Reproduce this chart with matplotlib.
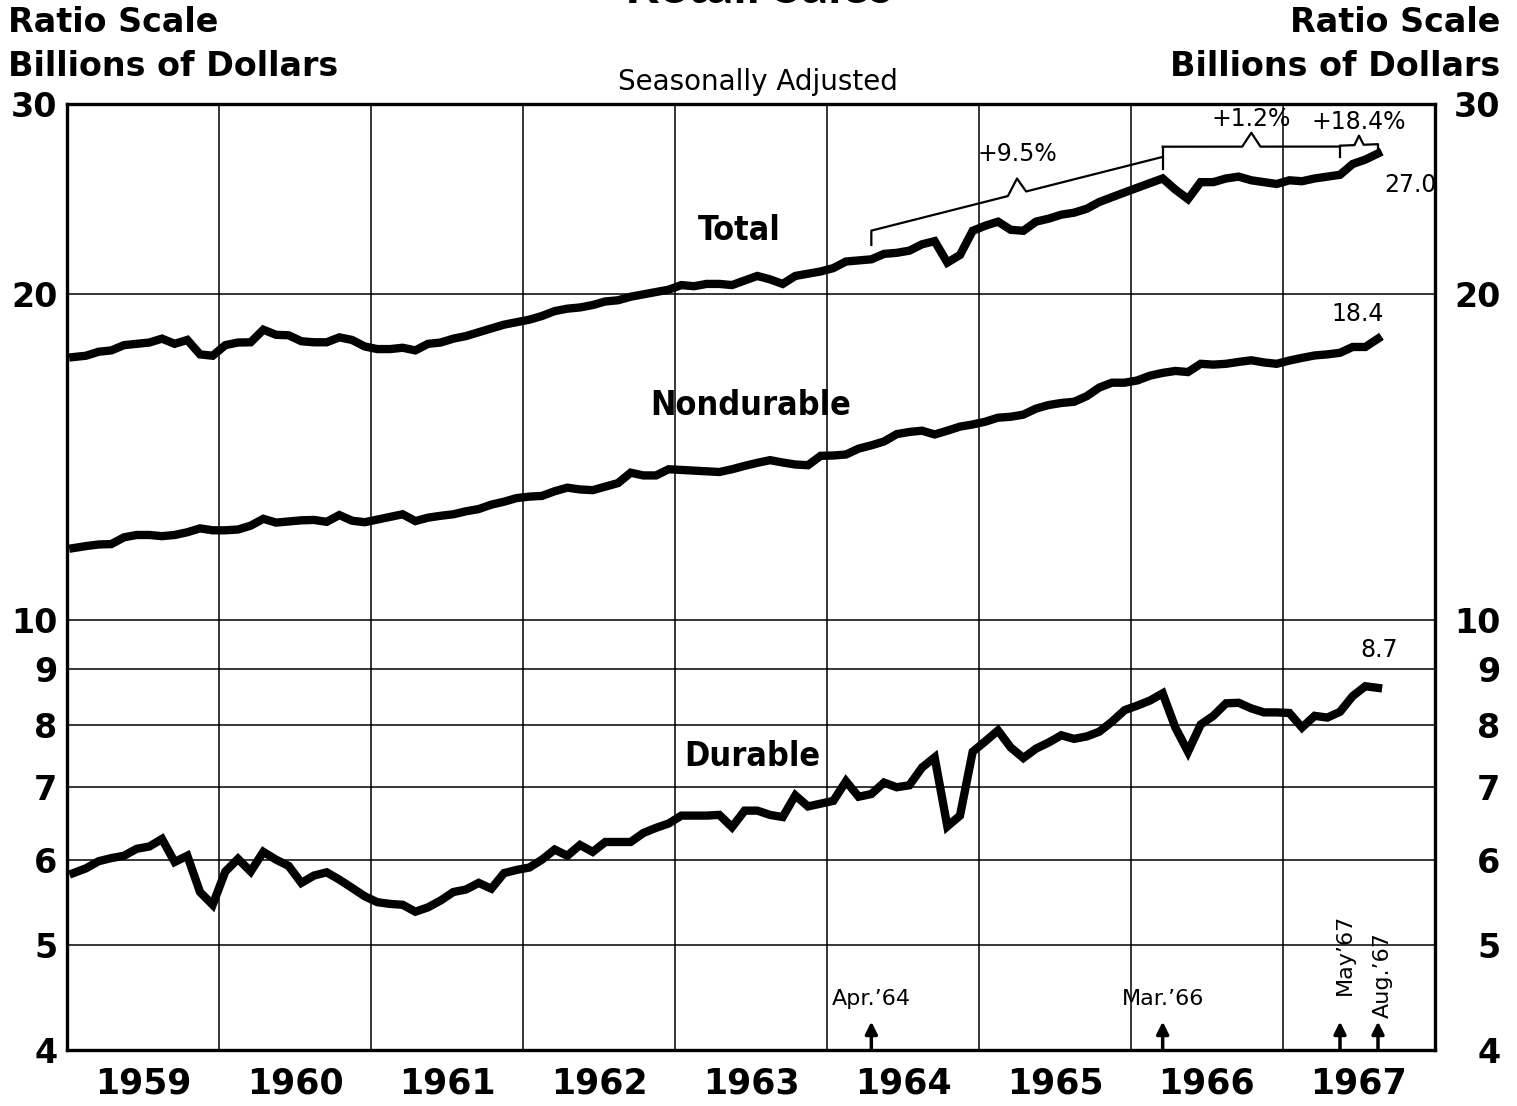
import os
import numpy as np
import pandas as pd
import matplotlib
matplotlib.use("Agg")
import matplotlib.pyplot as plt
import matplotlib.transforms as mtransforms
from matplotlib import font_manager as fm
from matplotlib.ticker import FixedLocator, FixedFormatter, NullLocator

# monthly retail sales, seasonally adjusted, billions of dollars (Jan 1959 - Aug 1967)
months = pd.date_range("1959-01-01", "1967-08-01", freq="MS")

total = [
    17.5, 17.55, 17.7, 17.75, 17.95, 18.0, 18.05, 18.2, 18.0, 18.15, 17.6, 17.55,
    17.95, 18.05, 18.06, 18.55, 18.35, 18.33, 18.1, 18.06, 18.06, 18.25, 18.15, 17.9,
    17.8, 17.8, 17.85, 17.75, 18.0, 18.05, 18.2, 18.3, 18.45, 18.6, 18.75, 18.85,
    18.95, 19.1, 19.3, 19.4, 19.45, 19.55, 19.7, 19.75, 19.9, 20.0, 20.1, 20.2,
    20.4, 20.35, 20.45, 20.45, 20.4, 20.6, 20.8, 20.65, 20.45, 20.8, 20.9, 21.0,
    21.15, 21.45, 21.5, 21.55, 21.8, 21.85, 21.95, 22.25, 22.4, 21.4, 21.75, 22.9,
    23.15, 23.35, 22.95, 22.9, 23.35, 23.5, 23.7, 23.8, 24.0, 24.35, 24.6, 24.85,
    25.1, 25.35, 25.6, 25.0, 24.5, 25.4, 25.4, 25.6, 25.7, 25.5, 25.4, 25.3,
    25.5, 25.45, 25.6, 25.7, 25.8, 26.4, 26.65, 27.0]

nondurable = [
    11.65, 11.7, 11.74, 11.75, 11.92, 11.98, 11.98, 11.95, 11.98, 12.05, 12.15, 12.1,
    12.1, 12.12, 12.22, 12.4, 12.3, 12.33, 12.36, 12.37, 12.32, 12.5, 12.35, 12.31,
    12.38, 12.45, 12.52, 12.34, 12.43, 12.48, 12.52, 12.6, 12.66, 12.78, 12.86, 12.96,
    13.0, 13.02, 13.15, 13.25, 13.2, 13.18, 13.28, 13.38, 13.68, 13.6, 13.6, 13.78,
    13.76, 13.74, 13.72, 13.7, 13.78, 13.88, 13.97, 14.05, 13.98, 13.92, 13.9, 14.18,
    14.19, 14.22, 14.4, 14.5, 14.62, 14.85, 14.92, 14.96, 14.84, 14.96, 15.09, 15.16,
    15.25, 15.38, 15.41, 15.48, 15.68, 15.8, 15.87, 15.91, 16.1, 16.4, 16.57, 16.57,
    16.65, 16.82, 16.92, 16.99, 16.95, 17.25, 17.22, 17.25, 17.32, 17.38, 17.3, 17.25,
    17.37, 17.47, 17.56, 17.6, 17.66, 17.88, 17.88, 18.2]

durable = [
    5.83, 5.89, 5.98, 6.02, 6.05, 6.14, 6.17, 6.27, 5.97, 6.05, 5.6, 5.45,
    5.85, 6.01, 5.85, 6.1, 6.0, 5.92, 5.71, 5.8, 5.84, 5.75, 5.65, 5.55,
    5.48, 5.46, 5.45, 5.37, 5.42, 5.5, 5.6, 5.63, 5.71, 5.64, 5.83, 5.87,
    5.9, 6.0, 6.13, 6.05, 6.19, 6.1, 6.23, 6.23, 6.23, 6.35, 6.42, 6.48,
    6.59, 6.59, 6.59, 6.6, 6.43, 6.66, 6.66, 6.6, 6.57, 6.88, 6.72, 6.76,
    6.8, 7.09, 6.86, 6.9, 7.07, 7.0, 7.03, 7.3, 7.46, 6.44, 6.59, 7.55,
    7.72, 7.9, 7.62, 7.45, 7.6, 7.7, 7.82, 7.76, 7.8, 7.88, 8.05, 8.25,
    8.33, 8.42, 8.55, 7.95, 7.55, 8.0, 8.15, 8.37, 8.38, 8.28, 8.21, 8.21,
    8.2, 7.95, 8.15, 8.12, 8.22, 8.5, 8.68, 8.65]

series_names = ["Total", "Nondurable", "Durable"]
end_labels = ["27.0", "18.4", "8.7"]
years = list(range(1959, 1968))
y_ticks = [4, 5, 6, 7, 8, 9, 10, 20, 30]
marked_months = ["1964-04", "1966-03", "1967-05", "1967-08"]
marked_labels = ["Apr.\u201964", "Mar.\u201966", "May\u201967", "Aug.\u201967"]
rate_labels = ["+9.5%", "+1.2%", "+18.4%"]

# decimal year at mid-month
x = np.array(months.year + (months.month - 0.5) / 12.0)
idx = {m: list(months.strftime("%Y-%m")).index(m) for m in marked_months}

FONT = "DejaVu Sans"


def narrow_font():
    # look for a condensed bold face for the series names
    prefs = ["NotoSans-ExtraCondensedBold.", "NotoSans-CondensedBold.",
             "LiberationSansNarrow-Bold.", "DejaVuSansCondensed-Bold."]
    files = fm.findSystemFonts() + [f.fname for f in fm.fontManager.ttflist]
    for p in prefs:
        for f in files:
            if os.path.basename(f).startswith(p):
                return fm.FontProperties(fname=f)
    return fm.FontProperties(family="DejaVu Sans", weight="bold")


name_font = narrow_font()

fig = plt.figure(figsize=(15.17, 11.06), dpi=100)
W, H = 1517, 1106
ax = fig.add_axes([67 / W, 1 - 1050 / H, (1435 - 67) / W, (1050 - 104) / H])

ax.set_yscale("log")
ax.set_xlim(1959, 1968)
ax.set_ylim(4, 30)

# grid
for yr in years[1:]:
    ax.axvline(yr, color="black", lw=1.1, zorder=1)
for v in y_ticks[1:-1]:
    ax.axhline(v, color="black", lw=1.1, zorder=1)

ax.plot(x, total, color="black", lw=6, solid_joinstyle="miter", zorder=3)
ax.plot(x, nondurable, color="black", lw=6, solid_joinstyle="miter", zorder=3)
ax.plot(x, durable, color="black", lw=6, solid_joinstyle="miter", zorder=3)

for s in ax.spines.values():
    s.set_linewidth(2.4)

# y axis labels both sides
ax.yaxis.set_major_locator(FixedLocator(y_ticks))
ax.yaxis.set_major_formatter(FixedFormatter([str(v) for v in y_ticks]))
ax.yaxis.set_minor_locator(NullLocator())
ax.tick_params(axis="y", length=0, pad=7, labelsize=24)
for lbl in ax.get_yticklabels():
    lbl.set_fontfamily(FONT)
    lbl.set_fontweight("bold")

ax2 = ax.twinx()
ax2.set_yscale("log")
ax2.set_ylim(4, 30)
ax2.yaxis.set_major_locator(FixedLocator(y_ticks))
ax2.yaxis.set_major_formatter(FixedFormatter([str(v) for v in y_ticks]))
ax2.yaxis.set_minor_locator(NullLocator())
ax2.tick_params(axis="y", length=0, pad=47, labelsize=24)
for lbl in ax2.get_yticklabels():
    lbl.set_fontfamily(FONT)
    lbl.set_fontweight("bold")
    lbl.set_horizontalalignment("right")
for s in ax2.spines.values():
    s.set_visible(False)

# x axis: year labels centred in each year
ax.xaxis.set_major_locator(FixedLocator([y + 0.5 for y in years]))
ax.xaxis.set_major_formatter(FixedFormatter([str(y) for y in years]))
ax.tick_params(axis="x", length=0, pad=12, labelsize=25)
for lbl in ax.get_xticklabels():
    lbl.set_fontfamily(FONT)
    lbl.set_fontweight("bold")

# series names, sized so that "Nondurable" is about 200 px wide
renderer = fig.canvas.get_renderer()
probe = ax.text(0, 0, "Nondurable", fontproperties=name_font, fontsize=30)
name_size = 30 * 200 / probe.get_window_extent(renderer).width
probe.remove()
name_pos = [(1963.42, 22.9), (1963.5, 15.8), (1963.51, 7.47)]
for name, (nx, ny) in zip(series_names, name_pos):
    ax.text(nx, ny, name, fontproperties=name_font, fontsize=name_size,
            ha="center", va="center", zorder=4)

# last values
for vals, lab, off in zip([total, nondurable, durable], end_labels,
                          [(23, -23), (-15, 18), (1, 27)]):
    ax.annotate(lab, xy=(x[-1], vals[-1]), xytext=off, textcoords="offset points",
                ha="center", va="center", family=FONT, fontsize=17)


# braces showing annual rates of change
def brace(xa, xb, ya, yb, lift, hook_a, hook_b, d=0.06):
    xm = (xa + xb) / 2
    ym = np.sqrt(ya * yb)
    xs = [xa, xa, xm - d, xm, xm + d, xb, xb]
    ys = [ya * hook_a, ya, ym * (ym / ya) ** (-d / (xm - xa)), ym * lift,
          ym * (yb / ym) ** (d / (xb - xm)), yb, yb * hook_b]
    ax.plot(xs, ys, color="black", lw=1.6, zorder=4)
    return xm, ym * lift


xa, xb, xc, xd = (x[idx[m]] for m in marked_months)
ta, tb, tc, td = (total[idx[m]] for m in marked_months)
p1 = brace(xa, xb, ta * 1.063, tb * 1.047, 1.033, 0.97, 1.0)
ax.plot([xb, xb], [tb * 1.02, tb * 1.07], color="black", lw=1.6, zorder=4)
p2 = brace(xb, xc, tb * 1.07, tc * 1.062, 1.03, 1.0, 0.978)
p3 = brace(xc, xd, tc * 1.064, td * 1.02, 1.02, 1.0, 0.985, d=0.03)
for (px, py), lab, dy in zip([p1, p2, p3], rate_labels, [9, 1, 1]):
    ax.annotate(lab, xy=(px, py), xytext=(0, dy), textcoords="offset points",
                ha="center", va="bottom", family=FONT, fontsize=17)

# month markers along the bottom
trans = mtransforms.blended_transform_factory(ax.transData, ax.transAxes)
for m, lab in zip(marked_months, marked_labels):
    mx = x[idx[m]]
    ax.annotate("", xy=(mx, 0.03), xytext=(mx, 0.0), xycoords=trans, textcoords=trans,
                arrowprops=dict(arrowstyle="-|>", lw=2.5, color="black", mutation_scale=18,
                                shrinkA=0, shrinkB=0), zorder=4)
ax.text(xa, 0.043, marked_labels[0], transform=trans, ha="center", va="bottom",
        family=FONT, fontsize=16)
ax.text(xb, 0.043, marked_labels[1], transform=trans, ha="center", va="bottom",
        family=FONT, fontsize=16)
ax.text(xc + 0.035, 0.058, marked_labels[2], transform=trans, rotation=90,
        ha="center", va="bottom", family=FONT, fontsize=16)
ax.text(xd + 0.03, 0.034, marked_labels[3], transform=trans, rotation=90,
        ha="center", va="bottom", family=FONT, fontsize=16)

# headings (the title is cut by the top edge, as in the original scan)
fig.text(0.5, 1 - 3 / H, "Retail Sales", ha="center", va="baseline",
         family="Lato", fontweight="bold", fontsize=38)
fig.text(758 / W, 1 - 82 / H, "Seasonally Adjusted", ha="center", va="center",
         family=FONT, fontsize=20)
for xx, ha in [(8 / W, "left"), (1500 / W, "right")]:
    fig.text(xx, 1 - 22 / H, "Ratio Scale", ha=ha, va="center",
             family=FONT, fontweight="bold", fontsize=24)
    fig.text(xx, 1 - 66 / H, "Billions of Dollars", ha=ha, va="center",
             family=FONT, fontweight="bold", fontsize=24)

fig.savefig("out.png", dpi=100)
